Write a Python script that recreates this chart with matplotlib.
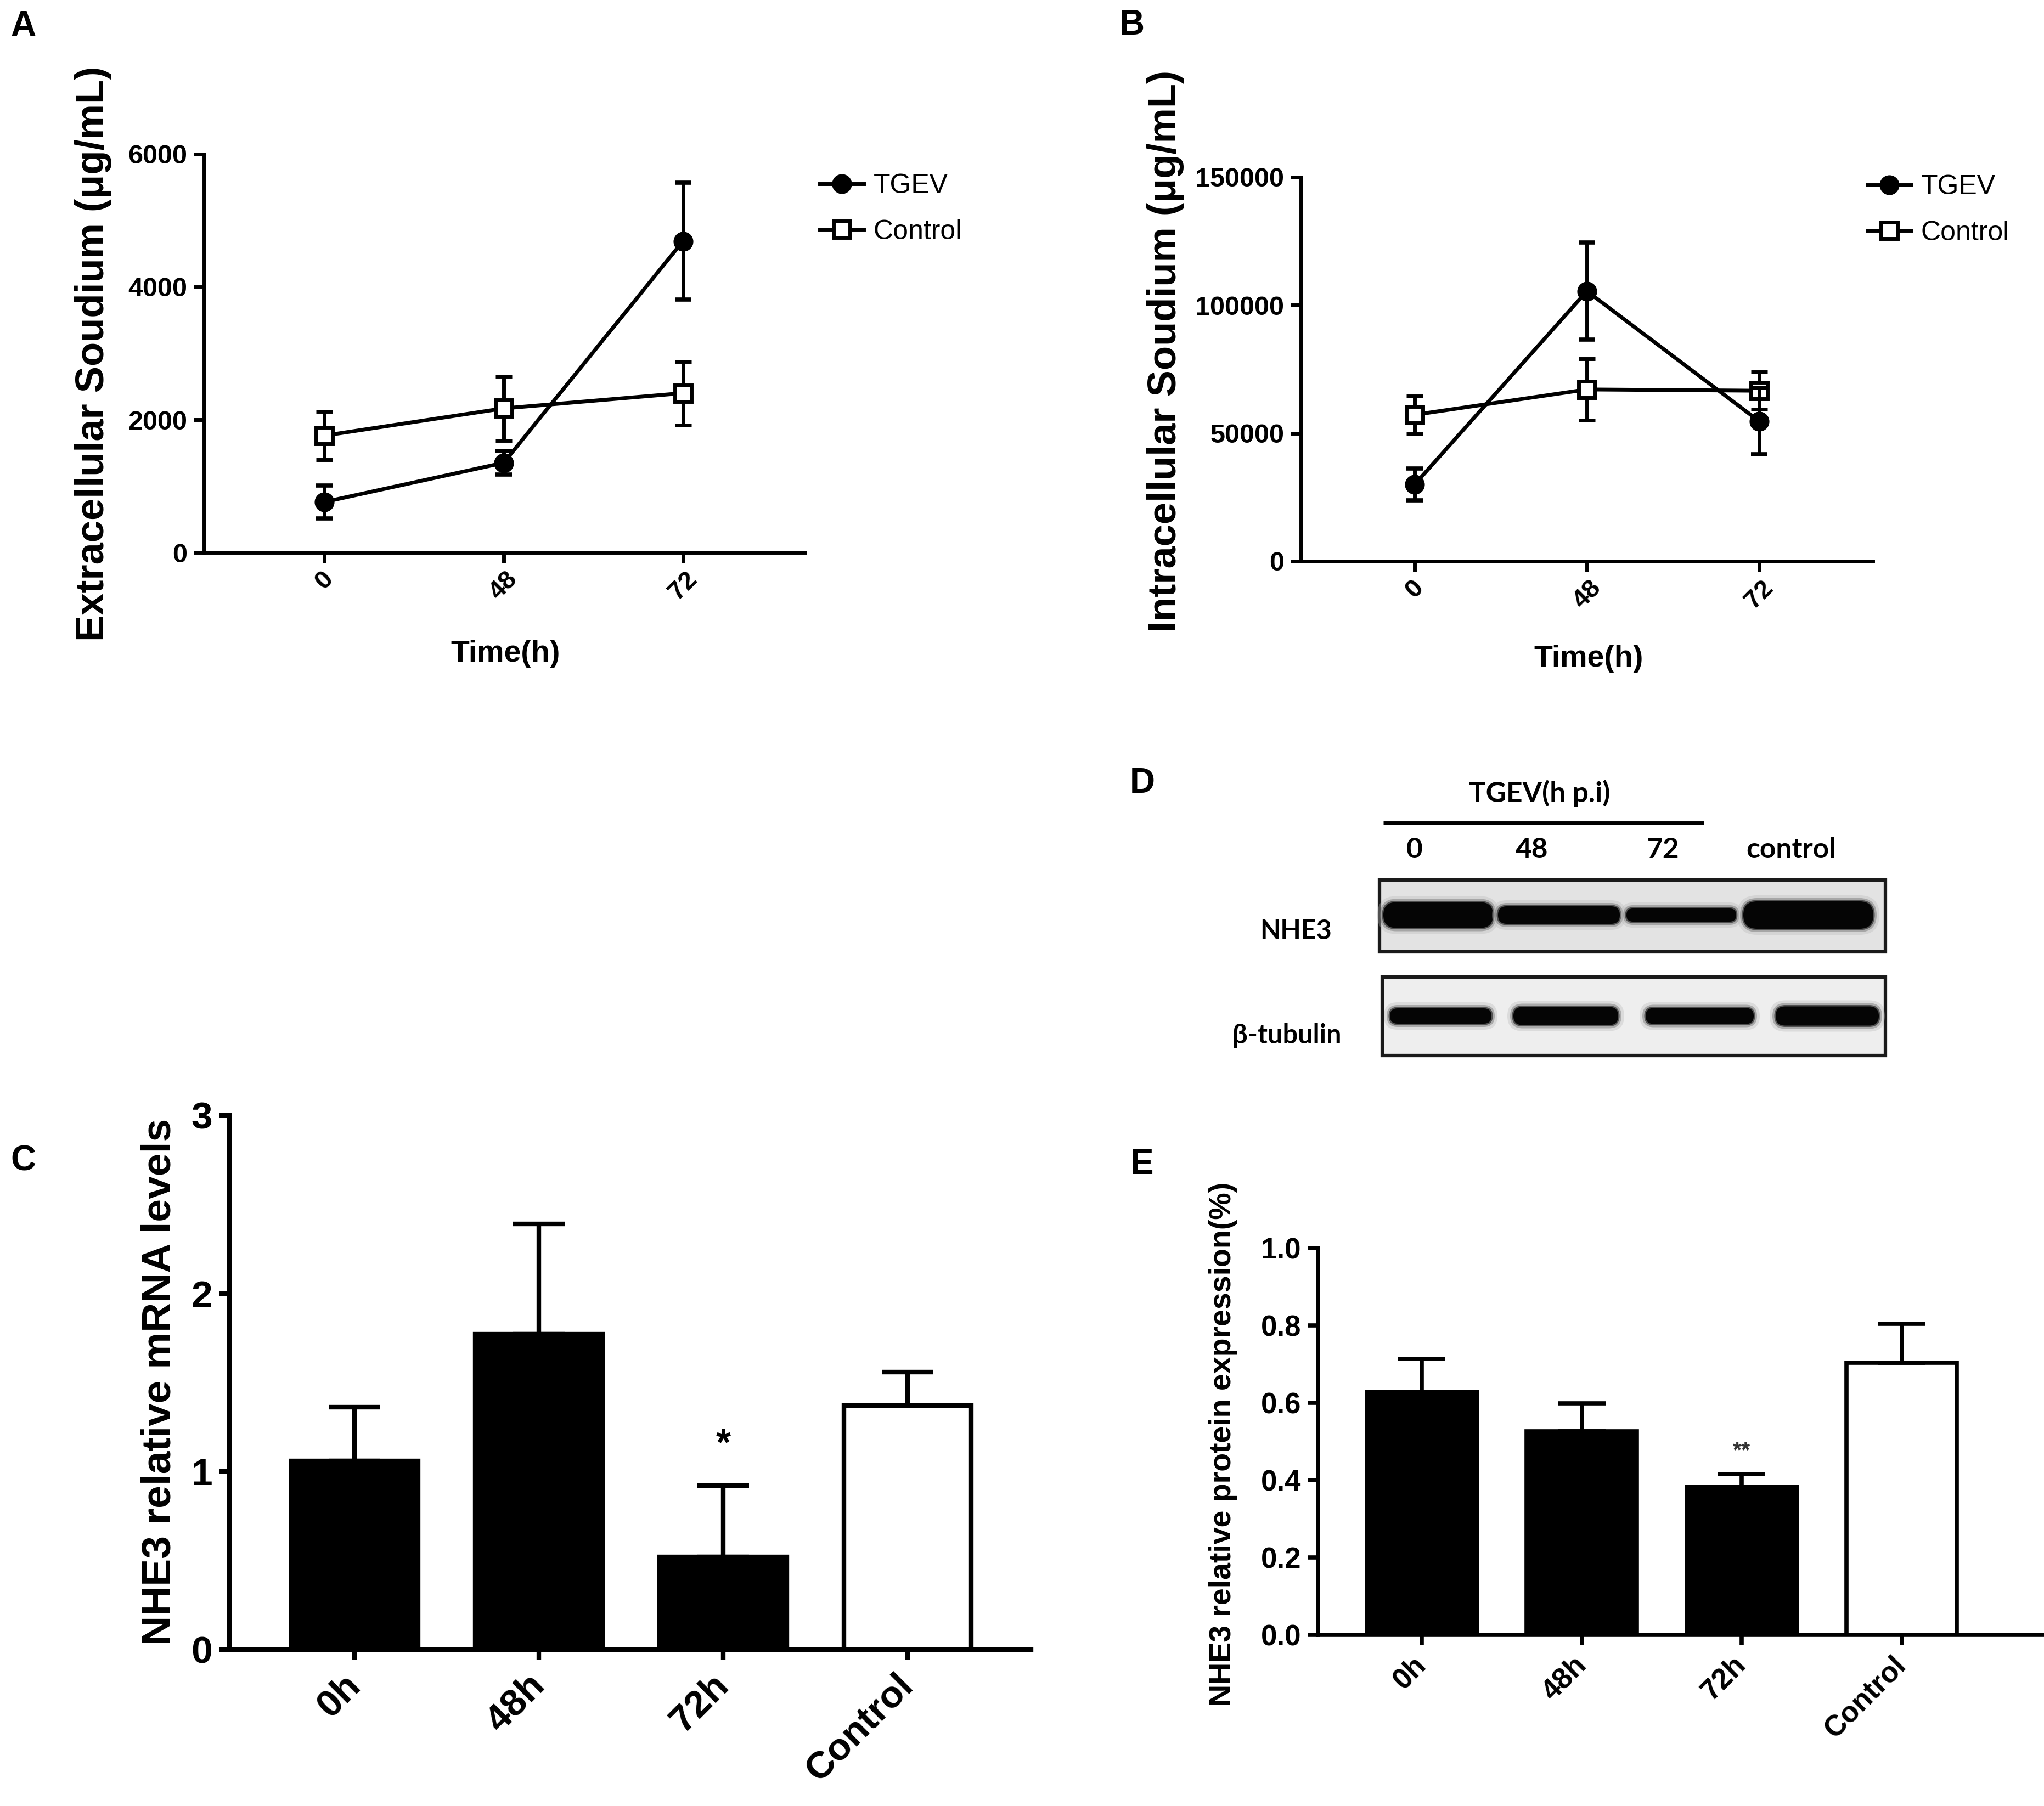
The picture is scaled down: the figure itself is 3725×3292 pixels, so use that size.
import matplotlib
matplotlib.use('Agg')
import matplotlib.pyplot as plt
from matplotlib.patches import Rectangle, FancyBboxPatch
from matplotlib.lines import Line2D
from matplotlib.transforms import ScaledTranslation
import numpy as np

W, H = 3725, 3292
DPI = 100
plt.rcParams['font.family'] = ['Liberation Sans', 'DejaVu Sans']

# ---------------- data ----------------
time_labels = ['0', '48', '72']
tgev_ext = [760, 1350, 4690]
tgev_ext_err = [250, 180, 880]
ctrl_ext = [1760, 2170, 2400]
ctrl_ext_err = [360, 480, 480]

tgev_int = [30000, 105500, 54700]
tgev_int_err = [6300, 19000, 13000]
ctrl_int = [57200, 67100, 66600]
ctrl_int_err = [7400, 12000, 7300]

groups = ['0h', '48h', '72h', 'Control']
mrna = [1.06, 1.77, 0.52, 1.37]
mrna_err = [0.30, 0.62, 0.40, 0.19]
protein = [0.628, 0.526, 0.383, 0.704]
protein_err = [0.086, 0.072, 0.033, 0.100]

blot_lanes = ['0', '48', '72', 'control']
nhe3_band = [47, 32, 24, 50]      # band thickness (relative intensity)
tubulin_band = [28, 33, 29, 35]

# ---------------- helpers ----------------
fig = plt.figure(figsize=(W / DPI, H / DPI), dpi=DPI)


def px_axes(left, top, right, bottom, **kw):
    return fig.add_axes([left / W, 1 - bottom / H, (right - left) / W, (bottom - top) / H], **kw)


def ftext(x, y, s, **kw):
    fig.text(x / W, 1 - y / H, s, **kw)


def style_axes(ax, lw, ticklen, labelsize, pad=8):
    for s in ['top', 'right']:
        ax.spines[s].set_visible(False)
    for s in ['left', 'bottom']:
        ax.spines[s].set_linewidth(lw)
    ax.tick_params(axis='both', width=lw, length=ticklen, labelsize=labelsize,
                   direction='out', pad=pad)
    ax.set_facecolor('none')


# ---------------- panels A & B ----------------
def line_panel(ax, tg, tge, ct, cte, ymax, yticks, xlim):
    x = np.arange(len(time_labels))
    lw = 5
    ax.errorbar(x, ct, yerr=cte, color='black', lw=lw, marker='s', ms=22,
                mfc='white', mec='black', mew=5, capsize=11, capthick=5.5,
                elinewidth=lw, zorder=3, clip_on=False)
    ax.errorbar(x, tg, yerr=tge, color='black', lw=lw, marker='o', ms=25,
                mfc='black', mec='black', capsize=11, capthick=5.5,
                elinewidth=lw, zorder=4, clip_on=False)
    ax.set_xlim(*xlim)
    ax.set_ylim(0, ymax)
    style_axes(ax, 5, 14, 35, pad=8)
    ax.set_yticks(yticks, [str(v) for v in yticks], fontweight='bold')
    ax.set_xticks(x, time_labels, rotation=45, fontweight='bold', fontsize=34)
    ax.tick_params(axis='x', pad=5)


axA = px_axes(372, 281, 1467, 1007)
line_panel(axA, tgev_ext, tgev_ext_err, ctrl_ext, ctrl_ext_err, 6000,
           [0, 2000, 4000, 6000], (-0.67, 2.68))
axB = px_axes(2371, 323, 3413, 1023)
line_panel(axB, tgev_int, tgev_int_err, ctrl_int, ctrl_int_err, 150000,
           [0, 50000, 100000, 150000], (-0.66, 2.66))

handles = [Line2D([], [], color='black', lw=5, marker='o', ms=25, mfc='black'),
           Line2D([], [], color='black', lw=5, marker='s', ms=22, mfc='white', mew=5)]
for (hx, hy) in [(1494, 381), (3403, 383)]:
    fig.legend(handles, ['TGEV', 'Control'], loc='center left',
               bbox_to_anchor=(hx / W, 1 - hy / H), frameon=False, fontsize=36,
               handlelength=1.6, handletextpad=0.35, labelspacing=0.75,
               borderpad=0, borderaxespad=0)

ftext(170, 645, 'Extracellular Soudium (μg/mL)', rotation=90, fontsize=52,
      fontweight='bold', ha='center', va='center')
ftext(2124, 640, 'Intracellular Soudium (μg/mL)', rotation=90, fontsize=52,
      fontweight='bold', ha='center', va='center')
ftext(921, 1192, 'Time(h)', fontsize=40, fontweight='bold', ha='center', va='center')
ftext(2895, 1201, 'Time(h)', fontsize=40, fontweight='bold', ha='center', va='center')


# ---------------- panels C & E ----------------
def bar_panel(ax, vals, errs, ymax, yticks, ylabels, xlim, lw, capsize,
              ticklen, ytsize, xtsize, xshift_px):
    x = np.arange(len(groups))
    colors = ['black', 'black', 'black', 'white']
    ax.bar(x, vals, width=0.69, color=colors, edgecolor='black', linewidth=lw,
           zorder=2)
    ax.errorbar(x, vals, yerr=[np.zeros(len(vals)), errs], fmt='none',
                ecolor='black', elinewidth=lw, capsize=capsize, capthick=lw,
                zorder=3, clip_on=False)
    ax.set_xlim(*xlim)
    ax.set_ylim(0, ymax)
    style_axes(ax, lw, ticklen, ytsize, pad=8)
    ax.set_yticks(yticks, ylabels, fontweight='bold')
    ax.set_xticks(x, groups, rotation=45, ha='right', rotation_mode='anchor',
                  va='center', fontweight='bold', fontsize=xtsize)
    off = ScaledTranslation(xshift_px / DPI, 0, fig.dpi_scale_trans)
    for lab in ax.get_xticklabels():
        lab.set_transform(lab.get_transform() + off)


axC = px_axes(418, 2033, 1879, 3007)
bar_panel(axC, mrna, mrna_err, 3, [0, 1, 2, 3], ['0', '1', '2', '3'],
          (-0.68, 3.67), 6, 34, 14, 50, 50, 22)
axC.tick_params(axis='x', pad=26)
axC.text(2, 1.15, '*', ha='center', va='center', fontsize=50, fontweight='bold')
ftext(291, 2519, 'NHE3 relative mRNA levels', rotation=90, fontsize=54,
      fontweight='bold', ha='center', va='center')

axE = px_axes(2402, 2275, 3725, 2980)
bar_panel(axE, protein, protein_err, 1.0, [0, 0.2, 0.4, 0.6, 0.8, 1.0],
          ['0.0', '0.2', '0.4', '0.6', '0.8', '1.0'], (-0.65, 3.89), 5.5, 31,
          14, 38, 38, 16)
axE.tick_params(axis='x', pad=20)
axE.text(2, 0.475, '**', ha='center', va='center', fontsize=30,
         fontweight='bold', color='#333333')
ftext(2229, 2632, 'NHE3 relative protein expression(%)', rotation=90,
      fontsize=40, fontweight='bold', ha='center', va='center')

# ---------------- panel D (western blot) ----------------
axD = fig.add_axes([0, 0, 1, 1], zorder=-1)
axD.set_xlim(0, W)
axD.set_ylim(H, 0)
axD.axis('off')

nhe3_box = (2514, 1604, 3436, 1735)
tub_box = (2519, 1781, 3436, 1924)
nhe3_lane_x = [(2521, 2721), (2730, 2952), (2964, 3164), (3177, 3414)]
tub_lane_x = [(2533, 2718), (2758, 2949), (2999, 3196), (3236, 3424)]
for (x0, y0, x1, y1), fc in [(nhe3_box, '#e3e3e3'), (tub_box, '#eeeeee')]:
    axD.add_patch(Rectangle((x0, y0), x1 - x0, y1 - y0, facecolor=fc,
                            edgecolor='#1a1a1a', lw=4.5, zorder=1))


def draw_band(xr, yc, th):
    x0, x1 = xr
    layers = [(22, '#b8b8b8', 0.35), (12, '#7a7a7a', 0.5), (5, '#333333', 0.75),
              (0, '#050505', 1.0)]
    for grow, col, al in layers:
        h = th + grow
        r = h / 2 * 0.999
        axD.add_patch(FancyBboxPatch((x0 - grow / 2 + r, yc - h / 2 + r),
                                     (x1 - x0) + grow - 2 * r, h - 2 * r,
                                     boxstyle='round,pad=%f' % r,
                                     facecolor=col, edgecolor='none',
                                     alpha=al, zorder=2))


for xr, th in zip(nhe3_lane_x, nhe3_band):
    draw_band(xr, 1668, th)
for xr, th in zip(tub_lane_x, tubulin_band):
    draw_band(xr, 1852, th)

dfont = ['Lato', 'DejaVu Sans']
ftext(2806, 1446, 'TGEV(h p.i)', fontsize=37, fontweight='bold', family=dfont,
      ha='center', va='center')
axD.plot([2521, 3105], [1500, 1500], color='black', lw=5, solid_capstyle='butt')
for lx, lab in zip([2578, 2792, 3030, 3264], blot_lanes):
    ftext(lx, 1549, lab, fontsize=37, fontweight='bold', family=dfont,
          ha='center', va='center')
ftext(2362, 1698, 'NHE3', fontsize=35, fontweight='bold', family=dfont,
      ha='center', va='center')
ftext(2345, 1888, 'β-tubulin', fontsize=35, fontweight='bold', family=dfont,
      ha='center', va='center')

# ---------------- panel letters ----------------
for lx, ly, s in [(42, 48, 'A'), (2063, 46, 'B'), (42, 2117, 'C'),
                  (2082, 1428, 'D'), (2081, 2123, 'E')]:
    ftext(lx, ly, s, fontsize=46, fontweight='bold', ha='center', va='center')

fig.savefig('out.png', dpi=DPI, facecolor='white')
